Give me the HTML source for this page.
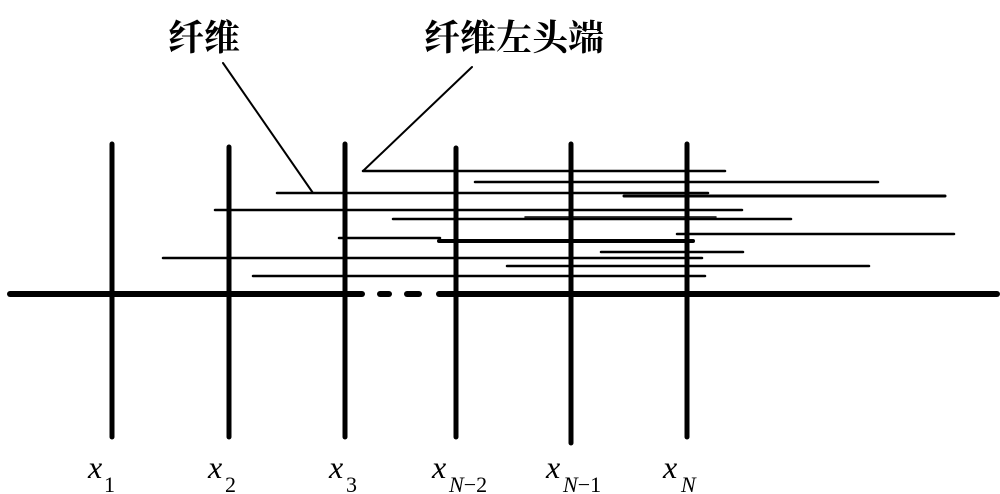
<!DOCTYPE html>
<html><head><meta charset="utf-8"><style>
html,body{margin:0;padding:0;background:#fff;}
svg{display:block;}
.cn{font-family:"Noto Serif CJK SC","Liberation Serif",serif;font-size:36px;font-weight:bold;}
.lb{font-family:"Liberation Serif","Times New Roman",serif;font-style:italic;}
.up{font-style:normal;}
</style></head><body>
<svg width="1000" height="494" viewBox="0 0 1000 494" xmlns="http://www.w3.org/2000/svg">
<g stroke="#000" stroke-linecap="round">
<g stroke-width="5">
<line x1="112" y1="144" x2="112" y2="437"/>
<line x1="229" y1="147" x2="229" y2="437"/>
<line x1="345" y1="144" x2="345" y2="437"/>
<line x1="456" y1="148" x2="456" y2="437"/>
<line x1="571" y1="144" x2="571" y2="443"/>
<line x1="687" y1="144" x2="687" y2="437"/>
</g>
<g stroke-width="6">
<line x1="10" y1="294" x2="362" y2="294"/>
<line x1="380" y1="294" x2="389" y2="294"/>
<line x1="407" y1="294" x2="419" y2="294"/>
<line x1="439" y1="294" x2="997" y2="294"/>
</g>
<g stroke-width="2.5">
<line x1="363" y1="171" x2="725" y2="171"/>
<line x1="475" y1="182" x2="878" y2="182"/>
<line x1="277" y1="193" x2="708" y2="193"/>
<line x1="624" y1="196" x2="945" y2="196" stroke-width="3"/>
<line x1="215" y1="210" x2="742" y2="210"/>
<line x1="525" y1="217" x2="716" y2="217" stroke-width="1.5"/>
<line x1="393" y1="219" x2="791" y2="219"/>
<line x1="677" y1="234" x2="954" y2="234"/>
<line x1="339" y1="238" x2="440" y2="238"/>
<line x1="439" y1="241" x2="693" y2="241" stroke-width="4"/>
<line x1="601" y1="252" x2="743" y2="252"/>
<line x1="163" y1="258" x2="702" y2="258"/>
<line x1="507" y1="266" x2="869" y2="266"/>
<line x1="253" y1="276" x2="705" y2="276"/>
</g>
<g stroke-width="2">
<line x1="223" y1="63" x2="313" y2="193"/>
<line x1="472" y1="67" x2="363" y2="171"/>
</g>
</g>
<text class="cn" x="168" y="50">纤维</text>
<text class="cn" x="424" y="50">纤维左头端</text>
<g class="lb" fill="#000">
<text x="88" y="478" font-size="32">x</text><text class="up" x="104" y="492" font-size="22">1</text>
<text x="208" y="478" font-size="32">x</text><text class="up" x="225" y="492" font-size="22">2</text>
<text x="329" y="478" font-size="32">x</text><text class="up" x="346" y="492" font-size="22">3</text>
<text x="432" y="478" font-size="32">x</text><text x="449" y="492" font-size="22">N<tspan class="up">−2</tspan></text>
<text x="546" y="478" font-size="32">x</text><text x="563" y="492" font-size="22">N<tspan class="up">−1</tspan></text>
<text x="663" y="478" font-size="32">x</text><text x="681" y="492" font-size="22">N</text>
</g>
</svg>
</body></html>
